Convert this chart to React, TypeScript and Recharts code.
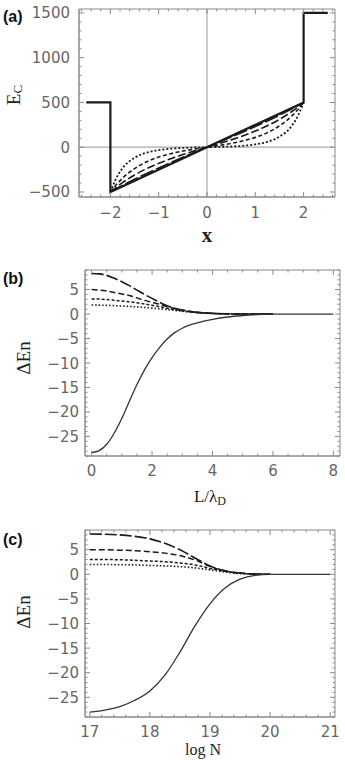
import React from "react";
import { LineChart, Line, XAxis, YAxis, ReferenceLine, ReferenceArea } from "recharts";

// ---- panel (a): E_C against x ----
const aStepX = [-2.5, -2, -2, 2, 2, 2.5];
const aStepY = [500, 500, -500, 500, 1500, 1500];
const aCurveX = [-2, -1.9, -1.75, -1.5, -1.25, -1, -0.75, -0.5, -0.25, 0, 0.25, 0.5, 0.75, 1, 1.25, 1.5, 1.75, 1.9, 2];
const aLongDash = [-500, -470, -427, -358, -293, -231, -171, -113, -56, 0, 56, 113, 171, 231, 293, 358, 427, 470, 500];
const aDash = [-500, -456, -396, -311, -240, -180, -128, -82, -40, 0, 40, 82, 128, 180, 240, 311, 396, 456, 500];
const aShortDash = [-500, -432, -346, -239, -163, -110, -72, -43, -20, 0, 20, 43, 72, 110, 163, 239, 346, 432, 500];
const aDot = [-500, -370, -235, -118, -60, -32, -16, -8, -3, 0, 3, 8, 16, 32, 60, 118, 235, 370, 500];
const aXMajor = [-2, -1, 0, 1, 2];
const aYMajor = [-500, 0, 500, 1000, 1500];

// ---- panel (b): ΔEn against L/λD ----
const bX = [0, 0.25, 0.5, 0.75, 1, 1.25, 1.5, 1.75, 2, 2.25, 2.5, 2.75, 3, 3.5, 4, 4.5, 5, 5.5, 6, 7, 8];
const bSolid = [-28.3, -27.9, -26.6, -24.3, -21.3, -17.8, -14.4, -11.4, -8.9, -6.8, -5.1, -3.8, -2.9, -1.8, -1.1, -0.6, -0.3, -0.1, 0, 0, 0];
const bLongDash = [8.3, 8.2, 7.9, 7.3, 6.6, 5.8, 4.9, 4.0, 3.2, 2.4, 1.7, 1.2, 0.8, 0.35, 0.15, 0.05, 0, 0, 0];
const bDash = [5.0, 4.9, 4.7, 4.4, 4.1, 3.8, 3.3, 2.8, 2.4, 2.0, 1.5, 1.1, 0.8, 0.35, 0.15, 0.05, 0, 0, 0];
const bShortDash = [3.1, 3.05, 2.95, 2.8, 2.65, 2.5, 2.3, 2.05, 1.8, 1.5, 1.2, 0.9, 0.65, 0.3, 0.12, 0.05, 0, 0, 0];
const bDot = [1.85, 1.82, 1.78, 1.72, 1.65, 1.56, 1.46, 1.35, 1.22, 1.08, 0.92, 0.75, 0.58, 0.28, 0.1, 0.04, 0, 0, 0];
const bXMajor = [0, 2, 4, 6, 8];

// ---- panel (c): ΔEn against log N ----
const cX = [17, 17.25, 17.5, 17.75, 18, 18.25, 18.5, 18.75, 19, 19.25, 19.5, 19.75, 20, 20.5, 21];
const cSolid = [-28.0, -27.6, -26.9, -25.6, -23.7, -20.5, -15.8, -10.5, -6.0, -2.8, -1.0, -0.2, 0, 0, 0];
const cLongDash = [8.2, 8.15, 8.0, 7.7, 7.2, 6.3, 5.0, 3.3, 1.7, 0.7, 0.25, 0.05, 0];
const cDash = [5.0, 5.0, 4.9, 4.8, 4.6, 4.3, 3.8, 2.9, 1.6, 0.7, 0.25, 0.05, 0];
const cShortDash = [3.0, 3.0, 2.95, 2.85, 2.7, 2.55, 2.3, 1.9, 1.2, 0.6, 0.2, 0.05, 0];
const cDot = [2.0, 2.0, 1.95, 1.9, 1.8, 1.7, 1.55, 1.3, 0.9, 0.45, 0.15, 0.04, 0];
const cXMajor = [17, 18, 19, 20, 21];

const dEnMajor = [-25, -20, -15, -10, -5, 0, 5];

const FRAME = "#8a8a8a";
const INK = "#1a1a1a";
const TICK_FONT = "DejaVu Sans";
const SERIF = "Liberation Serif";

const pts = (xs: number[], ys: number[]) => ys.map((y, i) => ({ x: xs[i], y }));
const steps = (from: number, to: number, step: number) => {
  const out: number[] = [];
  for (let v = from; v <= to + 1e-9; v += step) out.push(Math.round(v * 1000) / 1000);
  return out;
};
const fmt = (v: number) => (v < 0 ? "\u2212" + Math.abs(v) : String(v));
const isMajor = (major: number[], v: number) => major.some((m) => Math.abs(m - v) < 1e-6);

// bottom ticks also mark the top edge of the frame
const xTick = (major: number[], plotTop: number, dy: number) => (p: any) => {
  const { x, y, payload } = p;
  const big = isMajor(major, payload.value);
  const len = big ? 5 : 2.5;
  return (
    <g>
      <line x1={x} x2={x} y1={y} y2={y - len} stroke={FRAME} />
      <line x1={x} x2={x} y1={plotTop} y2={plotTop + len} stroke={FRAME} />
      {big && (
        <text x={x} y={y + dy} textAnchor="middle" fontFamily={TICK_FONT} fontSize={15} fill="#666">
          {fmt(payload.value)}
        </text>
      )}
    </g>
  );
};

// left ticks also mark the right edge
const yTick = (major: number[], plotRight: number, gap: number) => (p: any) => {
  const { x, y, payload } = p;
  const big = isMajor(major, payload.value);
  const len = big ? 5 : 2.5;
  return (
    <g>
      <line x1={x} x2={x + len} y1={y} y2={y} stroke={FRAME} />
      <line x1={plotRight} x2={plotRight - len} y1={y} y2={y} stroke={FRAME} />
      {big && (
        <text x={x - gap} y={y + 5.5} textAnchor="end" fontFamily={TICK_FONT} fontSize={15} fill="#666">
          {fmt(payload.value)}
        </text>
      )}
    </g>
  );
};

const panelLabel = (text: string, y: number) => (
  <text x={3} y={y} fontFamily="Liberation Sans" fontWeight="bold" fontSize={16} fill="#111">
    {text}
  </text>
);

const dEnLabel = (cx: number, cy: number) => (
  <text
    x={cx}
    y={cy}
    transform={`rotate(-90 ${cx} ${cy})`}
    textAnchor="middle"
    dominantBaseline="central"
    fontFamily={SERIF}
    fontSize={19}
    fill="#222"
  >
    ΔEn
  </text>
);

export default function App() {
  const aDomX = [-2.65, 2.65];
  const aDomY = [-556, 1544];
  const bDomX = [-0.22, 8.22];
  const cDomX = [16.92, 21.08];
  const dEnDom = [-29, 9];

  return (
    <div style={{ position: "absolute", left: 0, top: 0, width: 345, height: 760, background: "#fff" }}>
      {/* (a) */}
      <div style={{ position: "absolute", left: 0, top: 0 }}>
        <LineChart width={345} height={250} margin={{ top: 9, right: 10, bottom: 0, left: 0 }}>
          <XAxis
            type="number"
            dataKey="x"
            domain={aDomX}
            allowDataOverflow
            ticks={steps(-2.6, 2.6, 0.2)}
            interval={0}
            height={53}
            tickSize={0}
            tickMargin={0}
            tickLine={false}
            axisLine={{ stroke: FRAME }}
            tick={xTick(aXMajor, 9, 21)}
          />
          <YAxis
            type="number"
            dataKey="y"
            domain={aDomY}
            allowDataOverflow
            ticks={steps(-500, 1500, 100)}
            interval={0}
            width={79}
            tickSize={0}
            tickMargin={0}
            tickLine={false}
            axisLine={{ stroke: FRAME }}
            tick={yTick(aYMajor, 335, 9)}
          />
          <ReferenceArea x1={aDomX[0]} x2={aDomX[1]} y1={aDomY[0]} y2={aDomY[1]} fill="none" stroke={FRAME} />
          <ReferenceLine x={0} stroke="#aaa" strokeWidth={1.2} />
          <ReferenceLine y={0} stroke="#aaa" strokeWidth={1.2} />
          <Line data={pts(aCurveX, aDot)} dataKey="y" type="monotone" stroke={INK} strokeWidth={1.8} strokeDasharray="2 2" dot={false} isAnimationActive={false} />
          <Line data={pts(aCurveX, aShortDash)} dataKey="y" type="monotone" stroke={INK} strokeWidth={1.6} strokeDasharray="4 2.5" dot={false} isAnimationActive={false} />
          <Line data={pts(aCurveX, aDash)} dataKey="y" type="monotone" stroke={INK} strokeWidth={1.6} strokeDasharray="8 3" dot={false} isAnimationActive={false} />
          <Line data={pts(aCurveX, aLongDash)} dataKey="y" type="monotone" stroke={INK} strokeWidth={1.6} strokeDasharray="14 3" dot={false} isAnimationActive={false} />
          <Line data={pts(aStepX, aStepY)} dataKey="y" type="linear" stroke={INK} strokeWidth={2.2} dot={false} isAnimationActive={false} />
          {panelLabel("(a)", 22)}
          <text
            x={13}
            y={95}
            transform="rotate(-90 13 95)"
            textAnchor="middle"
            dominantBaseline="central"
            fontFamily={SERIF}
            fontSize={19}
            fill="#222"
          >
            E<tspan fontSize={13} dy={4}>C</tspan>
          </text>
          <text x={207} y={242} textAnchor="middle" fontFamily={SERIF} fontWeight="bold" fontSize={21} fill="#222">
            x
          </text>
        </LineChart>
      </div>

      {/* (b) */}
      <div style={{ position: "absolute", left: 0, top: 250 }}>
        <LineChart width={345} height={262} margin={{ top: 20, right: 5, bottom: 0, left: 0 }}>
          <XAxis
            type="number"
            dataKey="x"
            domain={bDomX}
            allowDataOverflow
            ticks={steps(0, 8, 0.5)}
            interval={0}
            height={56}
            tickSize={0}
            tickMargin={0}
            tickLine={false}
            axisLine={{ stroke: FRAME }}
            tick={xTick(bXMajor, 20, 20)}
          />
          <YAxis
            type="number"
            dataKey="y"
            domain={dEnDom}
            allowDataOverflow
            ticks={steps(-29, 9, 1)}
            interval={0}
            width={85}
            tickSize={0}
            tickMargin={0}
            tickLine={false}
            axisLine={{ stroke: FRAME }}
            tick={yTick(dEnMajor, 340, 6)}
          />
          <ReferenceArea x1={bDomX[0]} x2={bDomX[1]} y1={dEnDom[0]} y2={dEnDom[1]} fill="none" stroke={FRAME} />
          <Line data={pts(bX, bDot)} dataKey="y" type="monotone" stroke={INK} strokeWidth={1.6} strokeDasharray="1.5 2" dot={false} isAnimationActive={false} />
          <Line data={pts(bX, bShortDash)} dataKey="y" type="monotone" stroke={INK} strokeWidth={1.5} strokeDasharray="3 2" dot={false} isAnimationActive={false} />
          <Line data={pts(bX, bDash)} dataKey="y" type="monotone" stroke={INK} strokeWidth={1.5} strokeDasharray="6 3" dot={false} isAnimationActive={false} />
          <Line data={pts(bX, bLongDash)} dataKey="y" type="monotone" stroke={INK} strokeWidth={1.6} strokeDasharray="12 3" dot={false} isAnimationActive={false} />
          <Line data={pts(bX, bSolid)} dataKey="y" type="monotone" stroke="#333" strokeWidth={1.3} dot={false} isAnimationActive={false} />
          {panelLabel("(b)", 34)}
          {dEnLabel(23, 108)}
          <text x={210} y={252} textAnchor="middle" fontFamily={SERIF} fontSize={17} fill="#222">
            L/λ<tspan fontSize={12} dy={3}>D</tspan>
          </text>
        </LineChart>
      </div>

      {/* (c) */}
      <div style={{ position: "absolute", left: 0, top: 505 }}>
        <LineChart width={345} height={255} margin={{ top: 25, right: 10, bottom: 0, left: 0 }}>
          <XAxis
            type="number"
            dataKey="x"
            domain={cDomX}
            allowDataOverflow
            ticks={steps(17, 21, 0.2)}
            interval={0}
            height={43}
            tickSize={0}
            tickMargin={0}
            tickLine={false}
            axisLine={{ stroke: FRAME }}
            tick={xTick(cXMajor, 25, 20)}
          />
          <YAxis
            type="number"
            dataKey="y"
            domain={dEnDom}
            allowDataOverflow
            ticks={steps(-29, 9, 1)}
            interval={0}
            width={85}
            tickSize={0}
            tickMargin={0}
            tickLine={false}
            axisLine={{ stroke: FRAME }}
            tick={yTick(dEnMajor, 335, 6)}
          />
          <ReferenceArea x1={cDomX[0]} x2={cDomX[1]} y1={dEnDom[0]} y2={dEnDom[1]} fill="none" stroke={FRAME} />
          <Line data={pts(cX, cDot)} dataKey="y" type="monotone" stroke={INK} strokeWidth={1.6} strokeDasharray="1.5 2" dot={false} isAnimationActive={false} />
          <Line data={pts(cX, cShortDash)} dataKey="y" type="monotone" stroke={INK} strokeWidth={1.5} strokeDasharray="3 2" dot={false} isAnimationActive={false} />
          <Line data={pts(cX, cDash)} dataKey="y" type="monotone" stroke={INK} strokeWidth={1.5} strokeDasharray="6 3" dot={false} isAnimationActive={false} />
          <Line data={pts(cX, cLongDash)} dataKey="y" type="monotone" stroke={INK} strokeWidth={1.6} strokeDasharray="12 3" dot={false} isAnimationActive={false} />
          <Line data={pts(cX, cSolid)} dataKey="y" type="monotone" stroke="#333" strokeWidth={1.3} dot={false} isAnimationActive={false} />
          {panelLabel("(c)", 40)}
          {dEnLabel(23, 107)}
          <text x={203} y={250} textAnchor="middle" fontFamily={SERIF} fontSize={16} fill="#222">
            log N
          </text>
        </LineChart>
      </div>
    </div>
  );
}
